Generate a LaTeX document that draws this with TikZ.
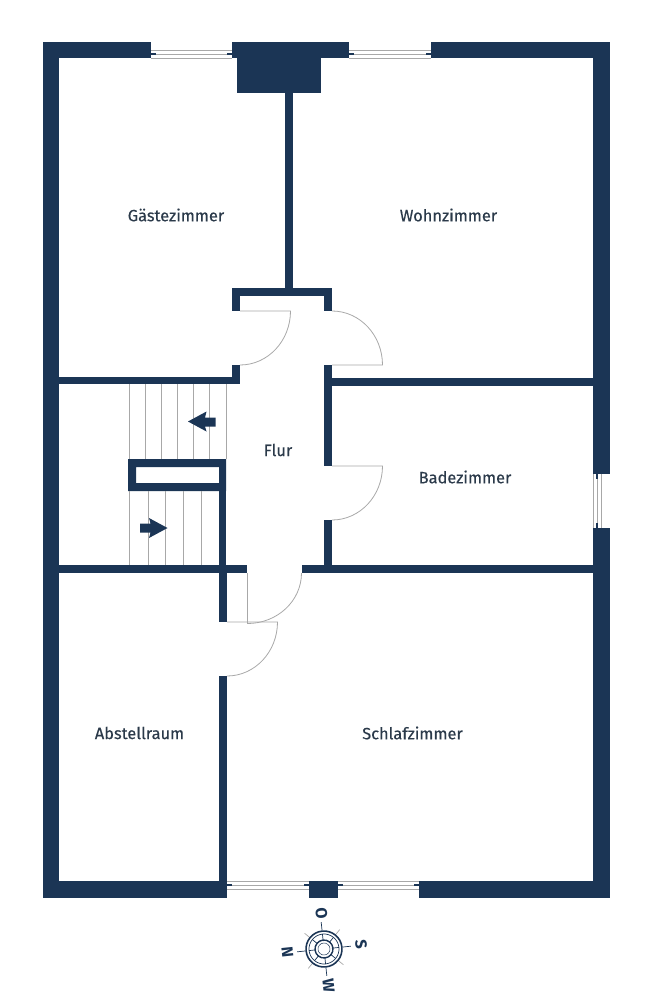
\documentclass[tikz,border=0pt]{standalone}
\usepackage{fontspec}
\setmainfont{Fira Sans}
\newfontfamily\roomfont{Fira Sans}[FakeBold=0.35]
\usetikzlibrary{positioning}
\definecolor{wallblue}{HTML}{1B3555}
\definecolor{labelgrey}{HTML}{2B3A4A}
\definecolor{linegrey}{HTML}{A8A8A8}

\tikzset{
  wall/.style={fill=wallblue},
  thinline/.style={draw=linegrey, line width=0.8pt},
  doorswing/.style={draw=linegrey, line width=0.8pt},
  windowtick/.style={draw=wallblue, line width=1.2pt},
  roomlabel/.style={text=labelgrey, font=\roomfont\fontsize{16.4}{19}\selectfont, inner sep=0pt},
  compassring/.style={draw=wallblue},
  compassletter/.style={text=wallblue, font=\fontsize{16}{18}\selectfont\bfseries, inner sep=0pt, rotate=-84}
}

\begin{document}
\begin{tikzpicture}[x=1pt, y=-1pt]
        \useasboundingbox (0,0) rectangle (652,1000);

        % windows
        \foreach \ya in {50,54,58} {
          \draw[thinline] (151,\ya) -- (232,\ya);
          \draw[thinline] (349,\ya) -- (431,\ya);
        }
        \foreach \ya in {881,885,889} {
          \draw[thinline] (227,\ya) -- (309,\ya);
          \draw[thinline] (338,\ya) -- (419,\ya);
        }
        \foreach \xa in {593,597,601}
          \draw[thinline] (\xa,474) -- (\xa,528);
        \foreach \xa/\xb in {151/156,227/232,349/354,426/431}
          \draw[windowtick] (\xa,54) -- (\xb,54);
        \foreach \xa/\xb in {227/232,304/309,338/343,414/419}
          \draw[windowtick] (\xa,885) -- (\xb,885);
        \draw[windowtick] (597,474) -- (597,479);
        \draw[windowtick] (597,523) -- (597,528);

        % outer walls
        \fill[wall] (43,42) rectangle (151,58);
        \fill[wall] (232,42) rectangle (349,58);
        \fill[wall] (431,42) rectangle (610,58);
        \fill[wall] (43,42) rectangle (59,898);
        \fill[wall] (593,42) rectangle (610,474);
        \fill[wall] (593,528) rectangle (610,898);
        \fill[wall] (43,881) rectangle (227,898);
        \fill[wall] (309,881) rectangle (338,898);
        \fill[wall] (419,881) rectangle (610,898);

        % chimney and inner walls
        \fill[wall] (237,58) rectangle (321,93);
        \fill[wall] (285,93) rectangle (293,288);
        \fill[wall] (232,288) rectangle (332,296);
        \fill[wall] (232,288) rectangle (240,311);
        \fill[wall] (324,288) rectangle (332,311);
        \fill[wall] (232,365) rectangle (240,384);
        \fill[wall] (59,377) rectangle (240,384);
        \fill[wall] (324,365) rectangle (332,466);
        \fill[wall] (332,378) rectangle (593,386);
        \fill[wall] (324,520) rectangle (332,566);
        \fill[wall] (59,565) rectangle (247,573);
        \fill[wall] (302,565) rectangle (593,573);
        \fill[wall] (219,573) rectangle (227,622);
        \fill[wall] (219,676) rectangle (227,881);

        % stair core
        \fill[wall, even odd rule] (128,459) rectangle (226,491) (136,467) rectangle (219,483);
        \fill[wall] (219,459) rectangle (226,565);

        % stairs
        \foreach \xa in {129.5,145.5,161.5,177.5,193.5,209.5,226}
          \draw[thinline] (\xa,384) -- (\xa,459);
        \foreach \xa in {129.5,148.5,165.5,183.5,201}
          \draw[thinline] (\xa,491) -- (\xa,565);
        \fill[wall] (188,421.5) -- (206.5,411.5) -- (205,417.5) -- (215.5,417.5) -- (215.5,426.5) -- (205,426.5) -- (206.5,431.5) -- cycle;
        \fill[wall] (167.5,528) -- (149,518) -- (150.5,523.5) -- (140,523.5) -- (140,532.5) -- (150.5,532.5) -- (149,538) -- cycle;

        % doors
        \draw[doorswing] (240,311) -- (290.5,311) arc[start angle=0, end angle=90, x radius=50.5, y radius=54];
        \draw[doorswing] (332,311) arc[start angle=-90, end angle=0, x radius=50.5, y radius=54] -- (332,365);
        \draw[doorswing] (332,466) -- (382.5,466) arc[start angle=0, end angle=90, x radius=50.5, y radius=54];
        \draw[doorswing] (247.5,573) -- (247.5,623.5) arc[start angle=90, end angle=0, x radius=54, y radius=50.5] -- (301.5,573);
        \draw[doorswing] (227,622) -- (277.5,622) arc[start angle=0, end angle=90, x radius=50.5, y radius=54];

        % rooms
        \node[roomlabel] (gaeste) at (176,215) {Gästezimmer};
        \node[roomlabel] (wohnen) at (448.5,215) {Wohnzimmer};
        \node[roomlabel] (flur) at (278,450) {Flur};
        \node[roomlabel] (bad) at (465,477) {Badezimmer};
        \node[roomlabel] (abstell) at (139.5,733) {Abstellraum};
        \node[roomlabel] (schlafen) at (412.5,733) {Schlafzimmer};

        % compass
        \begin{scope}[shift={(324,949)}, rotate=6]
          \foreach \ang in {0,90,180,270}
            \draw[wallblue, line width=0.7pt] (\ang:19) -- (\ang:27);
          \foreach \ang in {45,135,225,315}
            \draw[linegrey, line width=0.7pt] (\ang:19) -- (\ang:25);
          \foreach \ang in {0,45,...,315}
            \draw[wallblue, line width=0.7pt] (\ang:8) -- (\ang:15);
          \draw[compassring, line width=1.6pt] (0,0) circle[radius=18];
          \draw[compassring, line width=0.7pt] (0,0) circle[radius=15];
          \draw[compassring, line width=1.4pt] (0,0) circle[radius=9];
          \draw[compassring, line width=0.5pt] (0,0) circle[radius=6];
        \end{scope}
        \node[compassletter] (north) at (287.5,952.5) {N};
        \node[compassletter] (east) at (321.5,913) {O};
        \node[compassletter] (south) at (361,944.5) {S};
        \node[compassletter] (west) at (328.5,985.5) {W};
      \end{tikzpicture}
\end{document}
